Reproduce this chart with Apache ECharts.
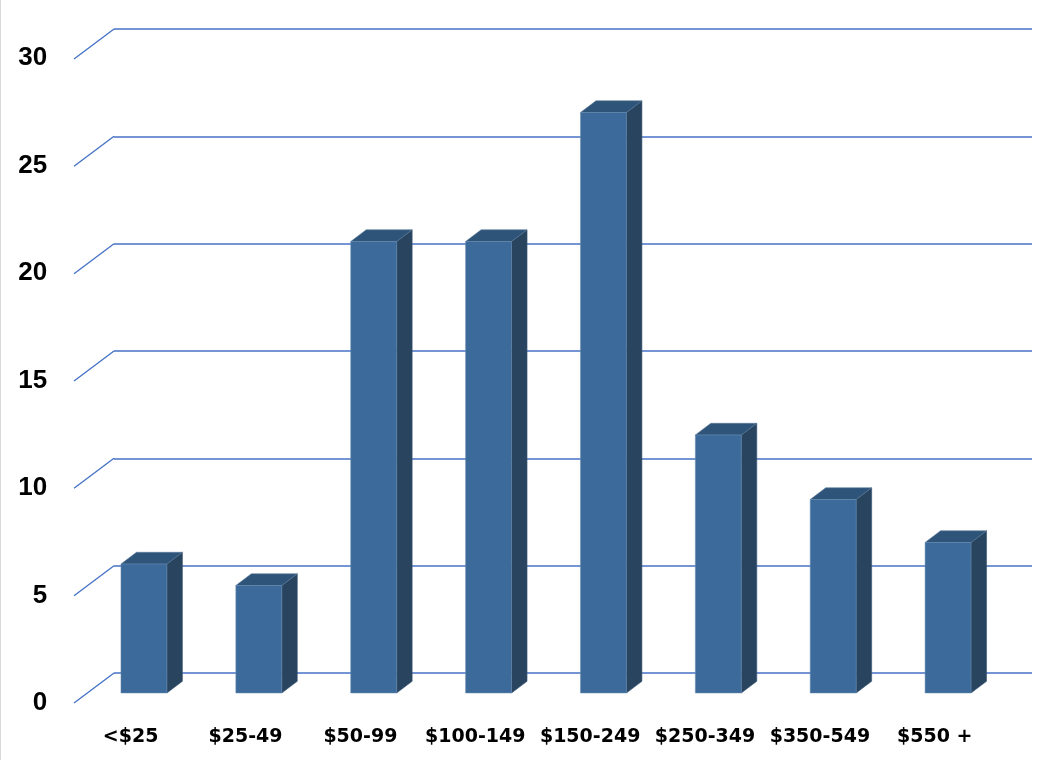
<!DOCTYPE html>
<html><head><meta charset="utf-8">
<script src="https://cdn.jsdelivr.net/npm/echarts@6/dist/echarts.min.js"></script>
<style>html,body{margin:0;padding:0;background:#fff}#c{width:1046px;height:760px}</style>
</head><body><div id="c"></div>
<script>
var categories = ['<$25', '$25-49', '$50-99', '$100-149', '$150-249', '$250-349', '$350-549', '$550 +'];
var counts = [6, 5, 21, 21, 27, 12, 9, 7];
var yTicks = [0, 5, 10, 15, 20, 25, 30];

var DX = 15.5, DY = -11.7;        // bar depth projection
var WX = -40, WY = 30;            // wall-to-front diagonal projection
var lineColor = '#4472C4';

var chart = echarts.init(document.getElementById('c'));
chart.setOption({
  animation: false,
  backgroundColor: '#fff',
  grid: [
    {left: 114, right: 14, top: 29, bottom: 87},          // back wall
    {left: 86.5, right: 40.5, top: 48, bottom: 67},       // bar front plane
    {left: 73.2, right: 53.8, top: 58, bottom: 57}        // front labels plane
  ],
  xAxis: [
    {gridIndex: 0, type: 'value', min: 0, max: 1, show: false},
    {gridIndex: 1, type: 'category', data: categories, show: false},
    {gridIndex: 2, type: 'category', data: categories,
      axisLine: {show: false}, axisTick: {show: false},
      axisLabel: {interval: 0, hideOverlap: false, margin: 25, color: '#000', fontFamily: 'DejaVu Sans', fontWeight: 'bold', fontSize: 19}}
  ],
  yAxis: [
    {gridIndex: 0, type: 'value', min: 0, max: 30, interval: 5,
      axisLine: {show: false}, axisTick: {show: false}, axisLabel: {show: false},
      splitLine: {show: true, lineStyle: {color: lineColor, width: 1.5}}},
    {gridIndex: 1, type: 'value', min: 0, max: 30, interval: 5, show: false, splitLine: {show: false}},
    {gridIndex: 2, type: 'value', min: 0, max: 30, interval: 5,
      axisLine: {show: false}, axisTick: {show: false}, splitLine: {show: false},
      axisLabel: {margin: 26, color: '#000', fontFamily: 'Liberation Sans', fontWeight: 'bold', fontSize: 26}}
  ],
  series: [
    {
      type: 'custom', xAxisIndex: 0, yAxisIndex: 0, silent: true,
      data: yTicks.map(function (t) { return [0, t]; }),
      renderItem: function (params, api) {
        var p = api.coord([0, api.value(1)]);
        return {type: 'line', shape: {x1: p[0], y1: p[1], x2: p[0] + WX, y2: p[1] + WY},
          style: {stroke: lineColor, lineWidth: 1.3}};
      }
    },
    {
      type: 'custom', xAxisIndex: 1, yAxisIndex: 1, silent: true,
      data: counts.map(function (v, i) { return [i, v]; }),
      renderItem: function (params, api) {
        var top = api.coord([api.value(0), api.value(1)]);
        var bot = api.coord([api.value(0), 0]);
        var w = api.size([1, 0])[0] * 0.4;
        var x0 = top[0] - w / 2, x1 = top[0] + w / 2, yt = top[1], yb = bot[1];
        return {type: 'group', children: [
          {type: 'polygon', shape: {points: [[x1, yt], [x1 + DX, yt + DY], [x1 + DX, yb + DY], [x1, yb]]},
            style: {fill: '#28445F', stroke: '#3a5878', lineWidth: 0.6}},
          {type: 'polygon', shape: {points: [[x0, yt], [x0 + DX, yt + DY], [x1 + DX, yt + DY], [x1, yt]]},
            style: {fill: '#2F5479', stroke: '#5a7898', lineWidth: 0.6}},
          {type: 'rect', shape: {x: x0, y: yt, width: w, height: yb - yt},
            style: {fill: '#3C6B9B', stroke: '#6a8cb0', lineWidth: 0.5}}
        ]};
      }
    }
  ],
  graphic: [
    {type: 'line', shape: {x1: 0.5, y1: 0, x2: 0.5, y2: 760}, style: {stroke: '#d9d9d9', lineWidth: 1}}
  ]
});
</script></body></html>
